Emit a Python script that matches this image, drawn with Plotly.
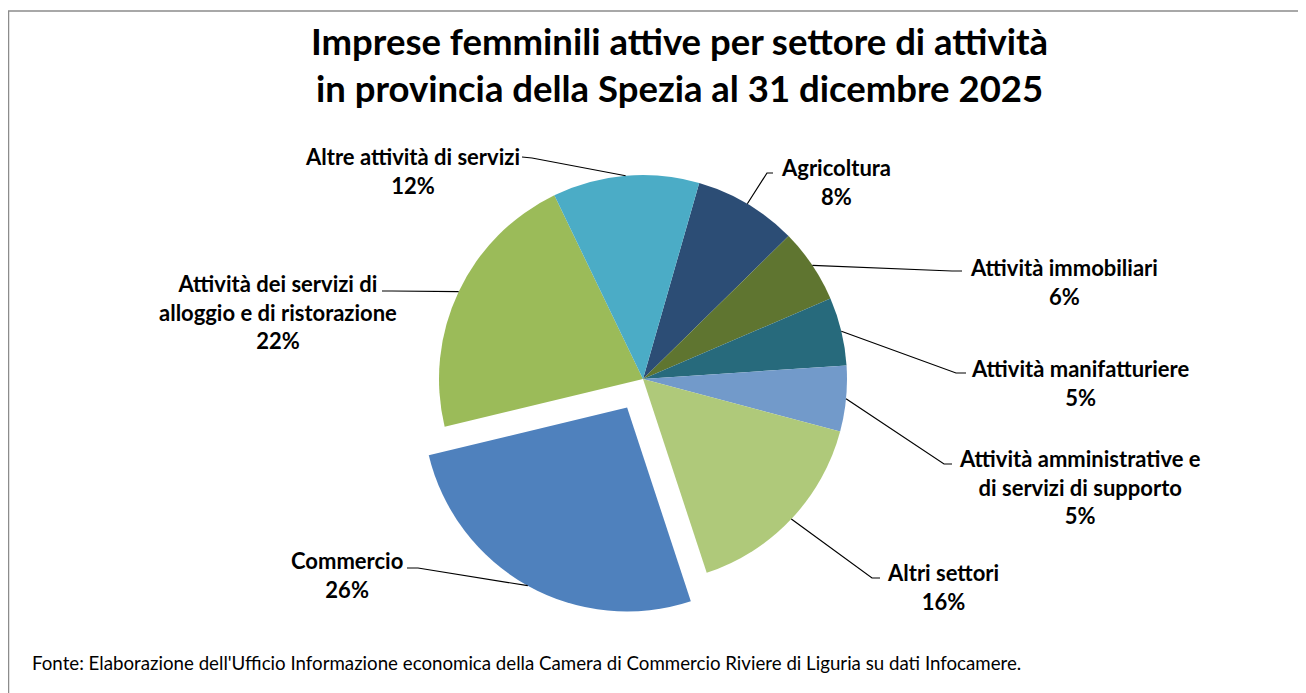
import math
import plotly.graph_objects as go

W, H = 1306, 693
OFF = 8  # default body margin of the html page

# data (percent shares)
sectors = [
    "Agricoltura",
    "Attività immobiliari",
    "Attività manifatturiere",
    "Attività amministrative e<br>di servizi di supporto",
    "Altri settori",
    "Commercio",
    "Attività dei servizi di<br>alloggio e di ristorazione",
    "Altre attività di servizi",
]
shares = [8.2, 5.9, 5.4, 5.2, 15.8, 26.3, 21.6, 11.6]
colors = ["#2C4D75", "#5F7530", "#276A7C", "#729ACA",
          "#AFC97A", "#4F81BD", "#9BBB59", "#4BACC6"]
pulls = [0, 0, 0, 0, 0, 0.16, 0, 0]

# layout of the pie in page pixels
CX, CY, R = 643, 379, 204
ROT = 16
half = R * (1 + max(pulls))

# label centres, attach point of the leader line, and bend point (page pixels)
label_pos = [
    (836, 182, 773, 173, 767, 173),
    (1064, 282, 962, 271, 952, 271),
    (1080, 383, 966, 373, 956, 373),
    (1080, 487, 952, 464, 944, 464),
    (943, 587, 880, 578, 872, 578),
    (347, 575, 407, 568, 418, 568),
    (278, 312, 382, 291, 392, 291),
    (412, 171, 522, 157, 532, 158),
]


def px(x):
    return (x - OFF) / W


def py(y):
    return 1 - (y - OFF) / H


fig = go.Figure(go.Pie(
    labels=sectors,
    values=shares,
    sort=False,
    direction="clockwise",
    rotation=ROT,
    pull=pulls,
    marker=dict(colors=colors, line=dict(width=0)),
    textinfo="none",
    hoverinfo="label+percent",
    domain=dict(x=[px(CX - half), px(CX + half)], y=[py(CY + half), py(CY - half)]),
    showlegend=False,
))

total = sum(shares)
angle = ROT
shapes = []
annotations = []
for name, v, pull, pos in zip(sectors, shares, pulls, label_pos):
    span = v / total * 360
    mid = math.radians(angle + span / 2)
    angle += span
    rr = R * (1 + pull)
    ex = CX + rr * math.sin(mid)
    ey = CY - rr * math.cos(mid)
    tx, ty, ax_, ay_, bx, by = pos
    shapes.append(dict(
        type="path", xref="paper", yref="paper",
        path=f"M {px(ex)},{py(ey)} L {px(bx)},{py(by)} L {px(ax_)},{py(ay_)}",
        line=dict(color="black", width=1.2),
    ))
    pct = round(v / total * 100)
    annotations.append(dict(
        text=f"<b>{name}<br>{pct}%</b>",
        x=px(tx), y=py(ty), xref="paper", yref="paper",
        xanchor="center", yanchor="middle", showarrow=False,
        font=dict(family="Lato", size=22, color="black"),
    ))

annotations.append(dict(
    text="<b>Imprese femminili attive per settore di attività<br>in provincia della Spezia al 31 dicembre 2025</b>",
    x=px(679), y=py(65), xref="paper", yref="paper",
    xanchor="center", yanchor="middle", showarrow=False,
    font=dict(family="Lato", size=36.5, color="black"),
))
annotations.append(dict(
    text="Fonte: Elaborazione dell'Ufficio Informazione economica della Camera di Commercio Riviere di Liguria su dati Infocamere.",
    x=px(30), y=py(663), xref="paper", yref="paper",
    xanchor="left", yanchor="middle", showarrow=False,
    font=dict(family="Lato", size=18.7, color="black"),
))

# chart frame
shapes.append(dict(
    type="rect", xref="paper", yref="paper",
    x0=px(8.5), x1=px(1303.5), y0=py(720), y1=py(11),
    line=dict(color="#8C8C8C", width=1.5),
))

fig.update_layout(
    width=W, height=H,
    margin=dict(l=0, r=0, t=0, b=0),
    paper_bgcolor="white",
    plot_bgcolor="white",
    shapes=shapes,
    annotations=annotations,
)

fig.write_html("out.html")
